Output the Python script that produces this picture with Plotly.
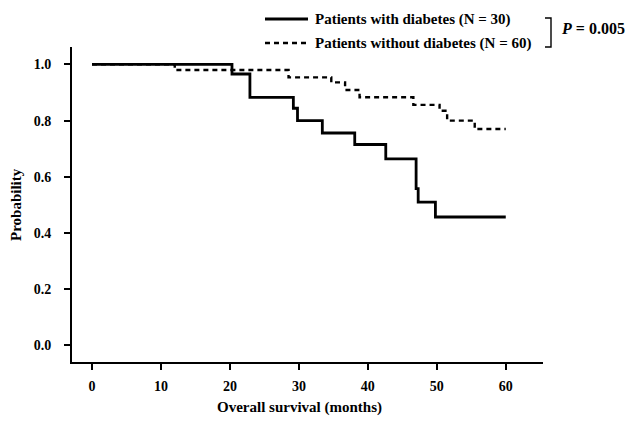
import plotly.graph_objects as go

# Kaplan-Meier step data (months, survival probability)
diab_t = [0, 20.3, 22.9, 29.2, 29.8, 33.4, 38.1, 42.6, 47.0, 47.3, 49.8, 60]
diab_s = [1.0, 0.966, 0.883, 0.844, 0.80, 0.756, 0.715, 0.664, 0.558, 0.51, 0.457, 0.457]

nodiab_t = [0, 12, 28.5, 34.7, 36.7, 38.8, 46.6, 50.4, 51.5, 55.5, 60]
nodiab_s = [1.0, 0.98, 0.954, 0.936, 0.909, 0.883, 0.856, 0.835, 0.80, 0.77, 0.77]

names = ["Patients with diabetes (N = 30)", "Patients without diabetes (N = 60)"]
p_text = "<i>P</i> = 0.005"
x_title = "Overall survival (months)"
y_title = "Probability"

x_ticks = [0, 10, 20, 30, 40, 50, 60]
y_ticks = [0.0, 0.2, 0.4, 0.6, 0.8, 1.0]
y_labels = ["0.0", "0.2", "0.4", "0.6", "0.8", "1.0"]

FONT = "Liberation Serif"

fig = go.Figure()
fig.add_trace(go.Scatter(x=diab_t, y=diab_s, mode="lines", line_shape="hv",
                         line=dict(color="black", width=2.8), name=names[0], showlegend=False,
                         hoverinfo="skip"))
fig.add_trace(go.Scatter(x=nodiab_t, y=nodiab_s, mode="lines", line_shape="hv",
                         line=dict(color="black", width=2.4, dash="5px,4px"), name=names[1], showlegend=False,
                         hoverinfo="skip"))

W, H = 625, 424
L, R, T, B = 72, 82, 47, 62
pw, ph = W - L - R, H - T - B

def px(x):
    return (x - L) / pw

def py(y):
    return (H - B - y) / ph

# legend samples
ROW1, ROW2 = 19, 43
fig.add_shape(type="line", xref="paper", yref="paper", x0=px(265), x1=px(308), y0=py(ROW1), y1=py(ROW1),
              line=dict(color="black", width=2.8))
fig.add_shape(type="line", xref="paper", yref="paper", x0=px(265), x1=px(308), y0=py(ROW2), y1=py(ROW2),
              line=dict(color="black", width=2.4, dash="5px,4px"))
for yy, txt in [(ROW1, names[0]), (ROW2, names[1])]:
    fig.add_annotation(xref="paper", yref="paper", x=px(313), y=py(yy), text="<b>" + txt + "</b>",
                       showarrow=False, xanchor="left", yanchor="middle",
                       font=dict(family=FONT, size=15, color="black"))
# bracket
fig.add_shape(type="path", xref="paper", yref="paper",
              path=f"M {px(545)},{py(ROW1 - 1)} L {px(551)},{py(ROW1 - 1)} L {px(551)},{py(ROW2 + 4)} L {px(545)},{py(ROW2 + 4)}",
              line=dict(color="black", width=1.4))
fig.add_annotation(xref="paper", yref="paper", x=px(559), y=py(29), text="<b>" + p_text + "</b>",
                   showarrow=False, xanchor="left", yanchor="middle",
                   font=dict(family=FONT, size=16, color="black"))

# axis titles
fig.add_annotation(xref="paper", yref="paper", x=px(299), y=py(407), text="<b>" + x_title + "</b>",
                   showarrow=False, xanchor="center", yanchor="middle",
                   font=dict(family=FONT, size=15, color="black"))
fig.add_annotation(xref="paper", yref="paper", x=px(16), y=py(205), text="<b>" + y_title + "</b>",
                   showarrow=False, xanchor="center", yanchor="middle", textangle=-90,
                   font=dict(family=FONT, size=15, color="black"))

axis_common = dict(showline=True, linecolor="black", linewidth=2, ticks="outside", ticklen=6,
                   tickwidth=2, tickcolor="black", showgrid=False, zeroline=False,
                   tickfont=dict(family=FONT, size=14, color="black"))

fig.update_xaxes(range=[-2.9, 65.4], tickvals=x_ticks, ticktext=[f"<b>{v}</b>" for v in x_ticks],
                 ticklabelstandoff=4, **axis_common)
fig.update_yaxes(range=[-0.059, 1.062], tickvals=y_ticks, ticktext=[f"<b>{v}</b>" for v in y_labels],
                 ticklabelstandoff=10, **axis_common)

fig.update_layout(width=W, height=H, margin=dict(l=L, r=R, t=T, b=B, autoexpand=False),
                  plot_bgcolor="white", paper_bgcolor="white", showlegend=False, hovermode=False)

fig.write_html("out.html", config={"displayModeBar": False, "staticPlot": True},
               post_script="document.body.style.margin='0';document.body.style.overflow='hidden';")
